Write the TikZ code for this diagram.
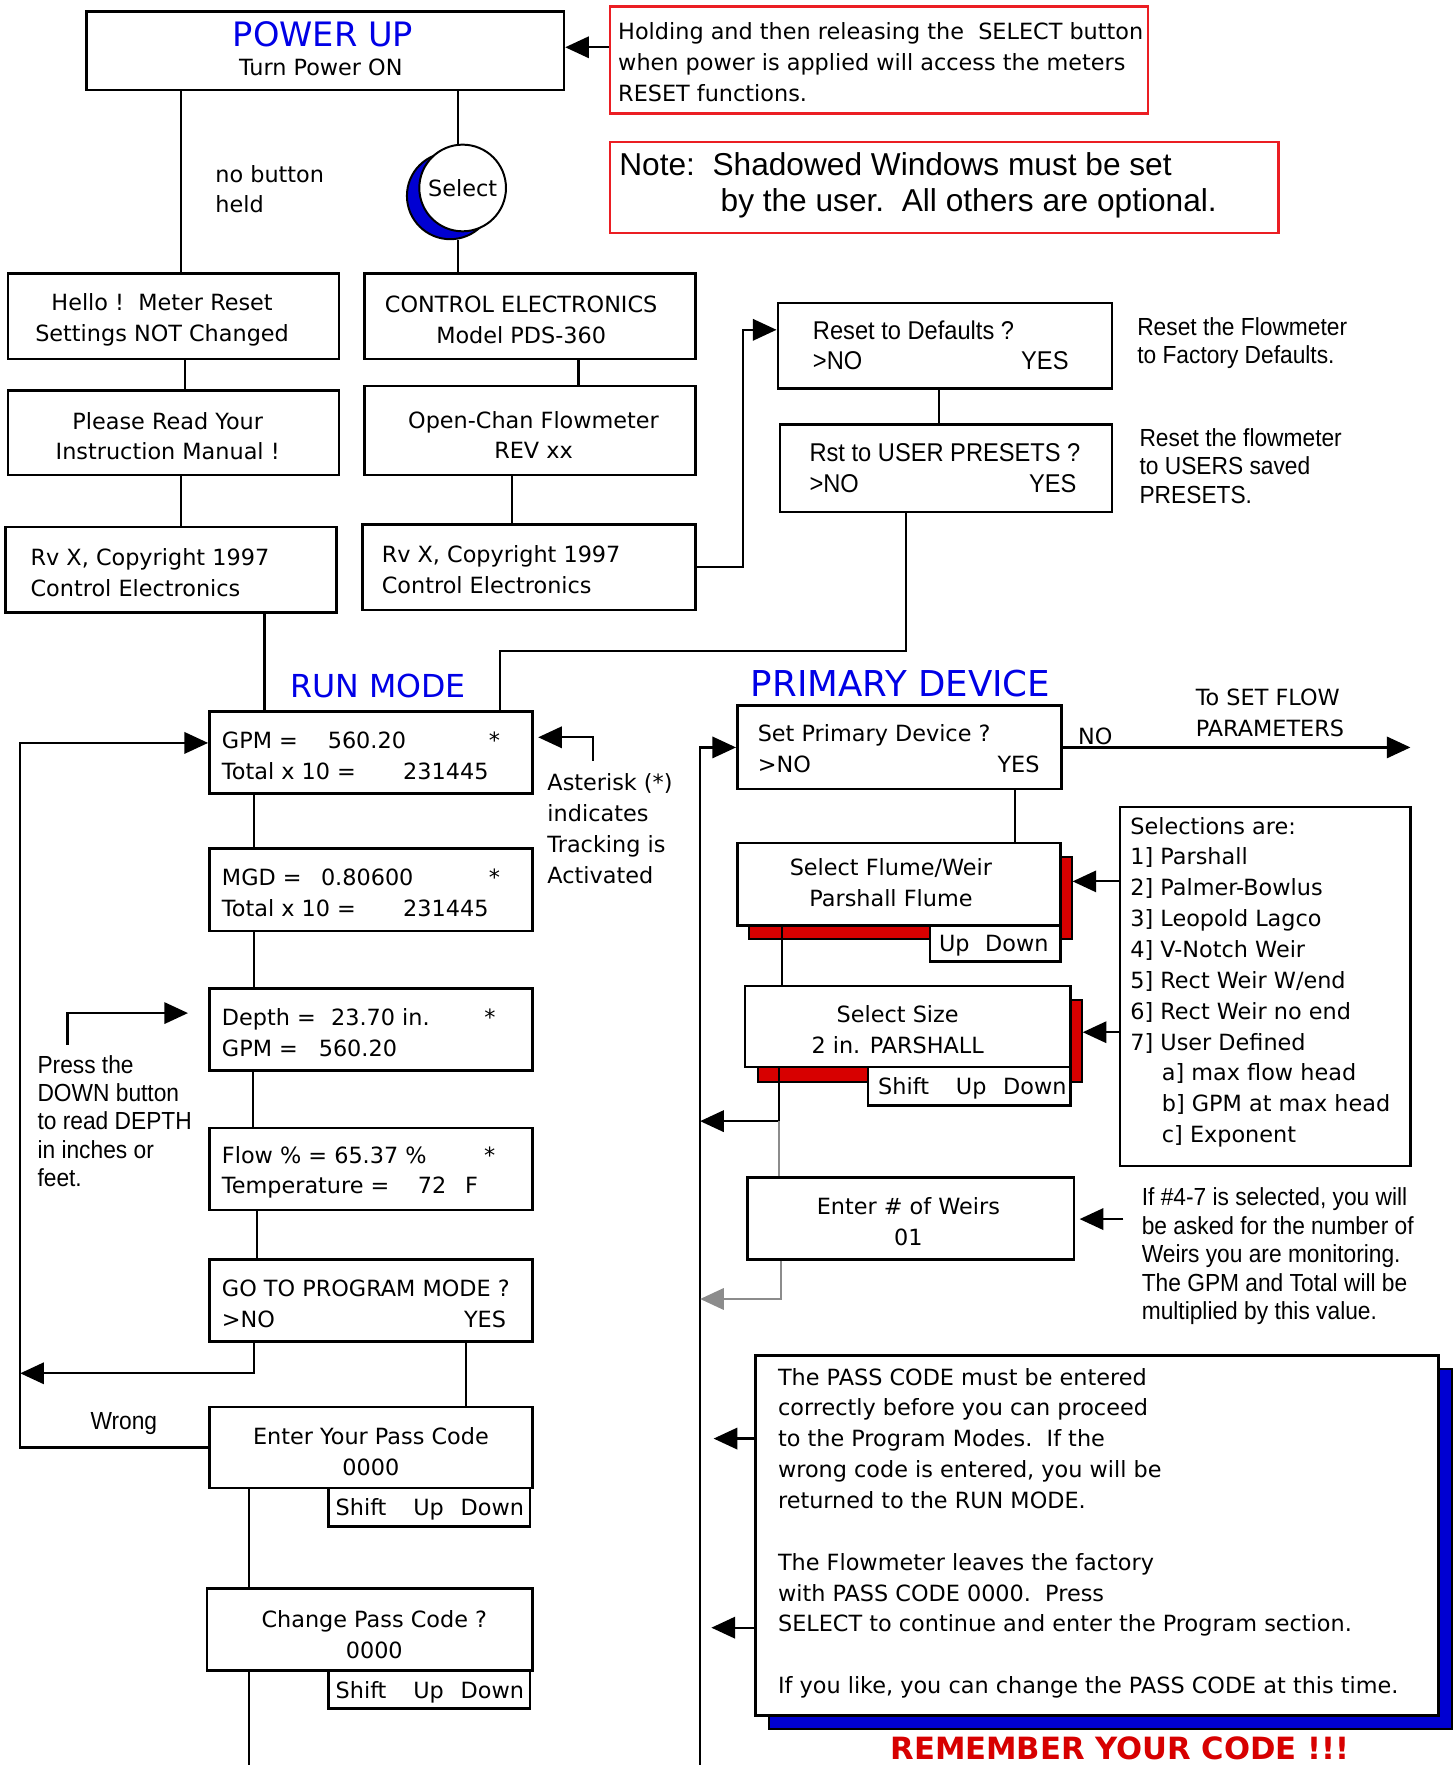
\documentclass[tikz,border=0pt]{standalone}
\usepackage{fontspec}
\setmainfont{DejaVu Sans}
\newfontfamily\narrowfont[FakeStretch=0.92]{Liberation Sans}
\newfontfamily\helvfont{Liberation Sans}
\usetikzlibrary{arrows.meta, calc, fit}

\definecolor{titleblue}{RGB}{0,0,230}
\definecolor{shadowblue}{RGB}{0,0,210}
\definecolor{shadowred}{RGB}{215,0,0}
\definecolor{notered}{RGB}{235,30,35}
\definecolor{linegray}{RGB}{140,140,140}

\newcommand{\lcdfont}{\fontsize{11.3}{15.6}\selectfont}
\newcommand{\narrowtext}{\narrowfont\fontsize{12.5}{14.4}\selectfont}
\newcommand{\narrowlcd}{\narrowfont\fontsize{13}{15.3}\selectfont}
\newcommand{\headfont}{\fontsize{17}{20}\selectfont}
\newcommand{\lcdcol}[2]{\makebox[#1][l]{#2}}

\tikzset{
  screen/.style={draw, line width=1.3pt, fill=white, inner sep=0pt},
  button/.style={screen},
  redshadow/.style={draw, line width=1pt, fill=shadowred, inner sep=0pt},
  blueshadow/.style={draw, line width=1pt, fill=shadowblue, inner sep=0pt},
  note/.style={draw=notered, line width=1.3pt, inner sep=0pt},
  knob/.style={circle, draw, line width=1pt, minimum size=15.4mm, inner sep=0pt, font=\lcdfont},
  lcd/.style={inner sep=0pt, font=\lcdfont, align=left},
  lcdcenter/.style={inner sep=0pt, font=\lcdfont, align=center},
  narrow/.style={inner sep=0pt, font=\narrowtext, align=left},
  narrowscreen/.style={inner sep=0pt, font=\narrowlcd, align=left},
  heading/.style={inner sep=0pt, font=\headfont, text=titleblue},
  link/.style={line width=1.1pt},
  flow/.style={link, -{Triangle[length=4.2mm, width=3.8mm]}}
}

\begin{document}
\begin{tikzpicture}[x=0.2mm, y=-0.2mm]
\path[use as bounding box, fill=white] (0,0) rectangle (1291,1568);

% power up
\node[screen, fit={(77,10) (501,80)}] (powerup) {};
\node[heading] (poweruptitle) at (287,30) {POWER UP};
\node[lcdcenter] (poweruptext) at (285,60) {Turn Power ON};
\node[note, fit={(542,6) (1020,101)}] (holding) {};
\node[lcd, anchor=west] (holdingtext) at ($(holding.west)+(8,2)$) {Holding and then releasing the\ \ SELECT button\\when power is applied will access the meters\\RESET functions.};
\node[note, fit={(542,126) (1136,207)}] (shadownote) {};
\node[inner sep=0pt, align=left, font=\helvfont\fontsize{16}{18.2}\selectfont, anchor=west] (shadownotetext) at ($(shadownote.west)+(9,-2)$) {Note:\ \ Shadowed Windows must be set\\\hspace*{18mm}by the user.\ \ All others are optional.};

\node[knob, fill=shadowblue] (selectshade) at (400,174) {};
\node[knob, fill=white] (selectbtn) at (411,167) {Select};
\node[lcd, anchor=west] (nobutton) at (191,168) {no button\\held};

% startup screens
\node[screen, fit={(7,243) (301,319)}] (hello) {};
\node[lcdcenter] (hellotext) at ($(hello.center)+(-10,3)$) {Hello !\ \ Meter Reset\\Settings NOT Changed};
\node[screen, fit={(324,243) (618,319)}] (control) {};
\node[lcdcenter] (controltext) at ($(control.center)+(-8,3)$) {CONTROL ELECTRONICS\\Model PDS-360};
\node[screen, fit={(7,347) (301,422)}] (please) {};
\node[lcdcenter] (pleasetext) at ($(please.center)+(-5,3)$) {Please Read Your\\Instruction Manual !};
\node[screen, fit={(324,343) (618,422)}] (openchan) {};
\node[lcdcenter] (openchantext) at ($(openchan.center)+(3,4)$) {Open-Chan Flowmeter\\REV xx};
\node[screen, fit={(5,468) (299,544)}] (rvleft) {};
\node[lcd, anchor=west] (rvlefttext) at ($(rvleft.west)+(23,3)$) {Rv X, Copyright 1997\\Control Electronics};
\node[screen, fit={(322,466) (618,542)}] (rvright) {};
\node[lcd, anchor=west] (rvrighttext) at ($(rvright.west)+(18,2)$) {Rv X, Copyright 1997\\Control Electronics};

% reset screens
\node[screen, fit={(691,269) (988,345)}] (reset) {};
\node[narrowscreen, anchor=west] (resettext) at ($(reset.west)+(32,0)$) {Reset to Defaults ?\\\lcdcol{37mm}{>NO}YES};
\node[screen, fit={(693,377) (988,455)}] (rst) {};
\node[narrowscreen, anchor=west] (rsttext) at ($(rst.west)+(27,0)$) {Rst to USER PRESETS ?\\\lcdcol{39mm}{>NO}YES};
\node[narrow, anchor=west] (resetnote) at (1010,305) {Reset the Flowmeter\\to Factory Defaults.};
\node[narrow, anchor=west] (rstnote) at (1012,414) {Reset the flowmeter\\to USERS saved\\PRESETS.};

\node[heading, font=\fontsize{16}{19}\selectfont] (runmode) at (336,609) {RUN MODE};
\node[heading, font=\fontsize{18}{21}\selectfont] (primaryhead) at (800,607) {PRIMARY DEVICE};

% run mode
\node[screen, fit={(186,632) (473,705)}] (gpm) {};
\node[lcd, anchor=west] (gpmtext) at ($(gpm.west)+(12,3)$) {\lcdcol{18.8mm}{GPM =}\lcdcol{28.6mm}{560.20}*\\\lcdcol{32.2mm}{Total x 10 =}231445};
\node[screen, fit={(186,754) (473,827)}] (mgd) {};
\node[lcd, anchor=west] (mgdtext) at ($(mgd.west)+(12,3)$) {\lcdcol{17.6mm}{MGD =}\lcdcol{29.8mm}{0.80600}*\\\lcdcol{32.2mm}{Total x 10 =}231445};
\node[screen, fit={(186,878) (473,951)}] (depth) {};
\node[lcd, anchor=west] (depthtext) at ($(depth.west)+(12,3)$) {\lcdcol{19.4mm}{Depth =}\lcdcol{27.2mm}{23.70 in.}*\\\lcdcol{17.2mm}{GPM =}560.20};
\node[screen, fit={(186,1002) (473,1075)}] (flow) {};
\node[lcd, anchor=west] (flowtext) at ($(flow.west)+(12,3)$) {\lcdcol{46.6mm}{Flow \% = 65.37 \%}*\\\lcdcol{34.8mm}{Temperature =}\lcdcol{8.4mm}{72}F};
\node[screen, fit={(186,1119) (473,1192)}] (goto) {};
\node[lcd, anchor=west] (gototext) at ($(goto.west)+(12,3)$) {GO TO PROGRAM MODE ?\\\lcdcol{43mm}{>NO}YES};
\node[screen, fit={(186,1250) (473,1322)}] (pass) {};
\node[lcdcenter] (passtext) at ($(pass.center)+(0,4)$) {Enter Your Pass Code\\0000};
\node[button, fit={(292,1322) (471,1356)}] (passkeys) {};
\node[lcd, anchor=west] (passkeystext) at ($(passkeys.west)+(7,2)$) {\lcdcol{13.8mm}{Shift}\lcdcol{8.4mm}{Up}Down};
\node[screen, fit={(184,1411) (473,1484)}] (change) {};
\node[lcdcenter] (changetext) at ($(change.center)+(4,5)$) {Change Pass Code ?\\0000};
\node[button, fit={(292,1484) (471,1518)}] (changekeys) {};
\node[lcd, anchor=west] (changekeystext) at ($(changekeys.west)+(7,2)$) {\lcdcol{13.8mm}{Shift}\lcdcol{8.4mm}{Up}Down};

\node[lcd, anchor=west] (asterisknote) at (486,736) {Asterisk (*)\\indicates\\Tracking is\\Activated};
\node[narrow, anchor=west] (pressnote) at (33,996) {Press the\\DOWN button\\to read DEPTH\\in inches or\\feet.};
\node[narrow] (wrong) at (110,1265) {Wrong};

% primary device
\node[screen, fit={(655,627) (943,701)}] (primary) {};
\node[lcd, anchor=west] (primarytext) at ($(primary.west)+(19,1)$) {Set Primary Device ?\\\lcdcol{42.6mm}{>NO}YES};
\node[lcd] (nolabel) at (973,654) {NO};
\node[lcd, anchor=west] (setflowtext) at (1062,633) {To SET FLOW\\PARAMETERS};

\node[redshadow, fit={(665,761) (952,834)}] (flumeshadow) {};
\node[screen, fit={(655,749) (942,822)}] (flume) {};
\node[lcdcenter] (flumetext) at ($(flume.center)+(-7,-1)$) {Select Flume/Weir\\Parshall Flume};
\node[button, fit={(826,822) (942,854)}] (flumekeys) {};
\node[lcd, anchor=west] (flumekeystext) at ($(flumekeys.west)+(9,2)$) {\lcdcol{8.2mm}{Up}Down};
\node[redshadow, fit={(673,888) (961,961)}] (sizeshadow) {};
\node[screen, fit={(662,876) (951,948)}] (size) {};
\node[lcdcenter] (sizetext) at ($(size.center)+(-9,3)$) {Select Size\\2 in. PARSHALL};
\node[button, fit={(771,948) (951,982)}] (sizekeys) {};
\node[lcd, anchor=west] (sizekeystext) at ($(sizekeys.west)+(10,2)$) {\lcdcol{13.8mm}{Shift}\lcdcol{8.4mm}{Up}Down};

\node[screen, fit={(995,717) (1253,1036)}] (selections) {};
\node[lcd, anchor=west] (selectionstext) at ($(selections.west)+(10,-4)$) {Selections are:\\1] Parshall\\2] Palmer-Bowlus\\3] Leopold Lagco\\4] V-Notch Weir\\5] Rect Weir W/end\\6] Rect Weir no end\\7] User Defined\\\hspace*{5.6mm}a] max flow head\\\hspace*{5.6mm}b] GPM at max head\\\hspace*{5.6mm}c] Exponent};

\node[screen, fit={(664,1046) (954,1119)}] (weirs) {};
\node[lcdcenter] (weirstext) at ($(weirs.center)+(-2,3)$) {Enter \# of Weirs\\01};
\node[narrow, anchor=west] (weirnote) at (1014,1116) {If \#4-7 is selected, you will\\be asked for the number of\\Weirs you are monitoring.\\The GPM and Total will be\\multiplied by this value.};

% pass code note
\node[blueshadow, fit={(683,1216) (1290,1536)}] (passshadow) {};
\node[screen, fit={(671,1204) (1278,1524)}] (passnote) {};
\node[lcd, anchor=west] (passnotetext) at ($(passnote.west)+(21,-2)$) {The PASS CODE must be entered\\correctly before you can proceed\\to the Program Modes.\ \ If the\\wrong code is entered, you will be\\returned to the RUN MODE.\\[15.6pt]The Flowmeter leaves the factory\\with PASS CODE 0000.\ \ Press\\SELECT to continue and enter the Program section.\\[15.6pt]If you like, you can change the PASS CODE at this time.};
\node[inner sep=0pt, font=\bfseries\fontsize{15.5}{18}\selectfont, text=shadowred] (remember) at (995,1553) {REMEMBER YOUR CODE !!!};

% free ends
\coordinate (loopcorner) at (18,660);
\coordinate (leftexit) at (221,1575);
\coordinate (busbottom) at (622,1575);
\coordinate (setflow) at (1253,664);
\coordinate (asteriskfoot) at (527,676);
\coordinate (pressfoot) at (60,928);
\coordinate (presshead) at (167,900);
\coordinate (weirnotefoot) at (998,1083);

% connectors
\draw[flow] (holding.west |- 0,42) -- (powerup.east |- 0,42);
\draw[link] (161,0 |- powerup.south) -- (161,0 |- hello.north);
\draw[link] (407,0 |- powerup.south) -- (407,0 |- selectbtn.north);
\draw[link] (407,0 |- selectshade.south) -- (407,0 |- control.north);
\draw[link] (164,0 |- hello.south) -- (164,0 |- please.north);
\draw[link] (514,0 |- control.south) -- (514,0 |- openchan.north);
\draw[link] (161,0 |- please.south) -- (161,0 |- rvleft.north);
\draw[link] (455,0 |- openchan.south) -- (455,0 |- rvright.north);
\draw[flow] (rvright.east) -- (660,0 |- rvright.east) |- (reset.west |- 0,293);
\draw[link] (834,0 |- reset.south) -- (834,0 |- rst.north);
\draw[link] (805,0 |- rst.south) -- (805,578) -- (444,578) -- (444,0 |- gpm.north);
\draw[link] (235,0 |- rvleft.south) -- (235,0 |- gpm.north);
\draw[link] (226,0 |- gpm.south) -- (226,0 |- mgd.north);
\draw[link] (226,0 |- mgd.south) -- (226,0 |- depth.north);
\draw[link] (225,0 |- depth.south) -- (225,0 |- flow.north);
\draw[link] (228,0 |- flow.south) -- (228,0 |- goto.north);
\draw[flow] (226,0 |- goto.south) -- (226,1220) -- (loopcorner |- 0,1220);
\draw[flow] (pass.west) -| (loopcorner) -- (gpm.west |- loopcorner);
\draw[link] (414,0 |- goto.south) -- (414,0 |- pass.north);
\draw[link] (221,0 |- pass.south) -- (221,0 |- change.north);
\draw[link] (221,0 |- change.south) -- (leftexit);
\draw[flow] (asteriskfoot) |- ($(gpm.east |- 0,655)+(4,0)$);
\draw[flow] (pressfoot) |- (presshead);

\draw[flow] (busbottom) |- (primary.west);
\draw[flow] (primary.east) -- (setflow);
\draw[link] (902,0 |- primary.south) -- (902,0 |- flume.north);
\draw[link] (695,0 |- flume.south) -- (695,0 |- size.north);
\draw[flow] (692,0 |- size.south) -- (692,996) -- (busbottom |- 0,996);
\draw[link, linegray] (692,996) -- (692,0 |- weirs.north);
\draw[flow, linegray] (694,0 |- weirs.south) -- (694,1154) -- (busbottom |- 0,1154);
\draw[flow] (selections.west |- 0,783) -- (flumeshadow.east |- 0,783);
\draw[flow] (selections.west |- 0,917) -- (sizeshadow.east |- 0,917);
\draw[flow] (weirnotefoot) -- ($(weirs.east |- weirnotefoot)+(4,0)$);
\draw[flow] (passnote.west |- 0,1278) -- ($(busbottom |- 0,1278)+(12,0)$);
\draw[flow] (passnote.west |- 0,1446) -- ($(busbottom |- 0,1446)+(10,0)$);
\end{tikzpicture}
\end{document}
